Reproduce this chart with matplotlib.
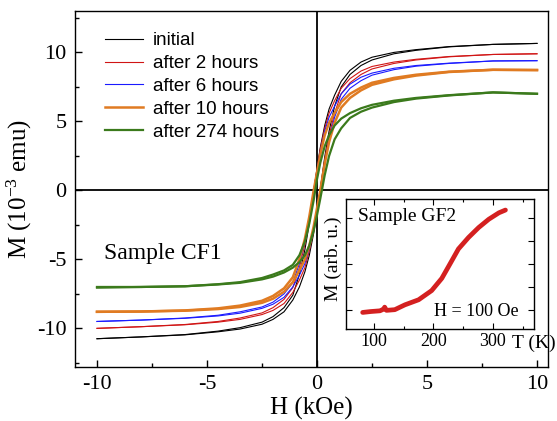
import numpy as np
import matplotlib
matplotlib.use("Agg")
import matplotlib.pyplot as plt
from matplotlib.ticker import MultipleLocator

plt.rcParams["axes.unicode_minus"] = False
plt.rcParams["mathtext.fontset"] = "custom"
plt.rcParams["mathtext.rm"] = "Liberation Serif"
plt.rcParams["mathtext.it"] = "Liberation Serif:italic"

# === Data ===
# field grid (kOe), shared by all branches
H = [-10, -8, -6, -4.5, -3.5, -2.5, -2, -1.5, -1.1, -0.8, -0.55, -0.35, -0.15, 0,
     0.15, 0.35, 0.55, 0.8, 1.1, 1.5, 2, 2.5, 3.5, 4.5, 6, 8, 10]

# upper (descending) and lower (ascending) branches, M in 1e-3 emu
initial_up = [-10.75, -10.62, -10.45, -10.2, -9.95, -9.55, -9.15, -8.5, -7.6, -6.1, -4.3, -2.4, -0.1, 1.6,
              3.1, 4.7, 5.9, 6.9, 7.9, 8.7, 9.3, 9.65, 10.0, 10.2, 10.42, 10.58, 10.65]
initial_lo = [-10.75, -10.62, -10.47, -10.25, -10.05, -9.7, -9.35, -8.8, -7.95, -7.0, -5.9, -4.7, -3.1, -1.6,
              0.1, 2.4, 4.3, 6.1, 7.5, 8.4, 9.05, 9.45, 9.9, 10.15, 10.4, 10.58, 10.65]

h2_up = [-10.0, -9.88, -9.72, -9.5, -9.25, -8.88, -8.5, -7.9, -7.05, -5.6, -3.9, -2.1, 0.0, 1.5,
         3.0, 4.5, 5.6, 6.5, 7.4, 8.1, 8.65, 8.98, 9.3, 9.5, 9.7, 9.85, 9.9]
h2_lo = [-10.0, -9.88, -9.74, -9.55, -9.35, -9.0, -8.7, -8.2, -7.4, -6.5, -5.6, -4.4, -2.9, -1.5,
         0.1, 2.2, 4.0, 5.6, 7.0, 7.8, 8.4, 8.8, 9.2, 9.45, 9.68, 9.85, 9.9]

h6_up = [-9.5, -9.4, -9.25, -9.05, -8.8, -8.45, -8.1, -7.5, -6.7, -5.3, -3.7, -2.0, 0.0, 1.4,
         2.8, 4.3, 5.3, 6.1, 7.0, 7.7, 8.2, 8.5, 8.85, 9.05, 9.22, 9.38, 9.4]
h6_lo = [-9.5, -9.4, -9.27, -9.1, -8.9, -8.55, -8.25, -7.75, -7.0, -6.15, -5.3, -4.2, -2.8, -1.4,
         0.0, 2.0, 3.7, 5.3, 6.6, 7.4, 7.95, 8.35, 8.75, 9.0, 9.2, 9.38, 9.4]

h10_up = [-8.8, -8.78, -8.7, -8.55, -8.35, -8.0, -7.65, -7.1, -6.3, -5.0, -3.5, -1.9, 0.0, 1.3,
          2.6, 4.0, 4.9, 5.6, 6.4, 7.0, 7.45, 7.8, 8.15, 8.38, 8.6, 8.74, 8.72]
h10_lo = [-8.8, -8.78, -8.72, -8.6, -8.45, -8.15, -7.85, -7.35, -6.65, -5.8, -5.0, -4.0, -2.6, -1.3,
          0.0, 1.9, 3.5, 4.9, 6.0, 6.7, 7.25, 7.65, 8.05, 8.32, 8.58, 8.74, 8.72]

h274_up = [-7.0, -7.0, -6.95, -6.8, -6.65, -6.35, -6.1, -5.8, -5.4, -4.7, -3.7, -2.4, -0.7, 0.8,
           2.0, 3.2, 4.0, 4.7, 5.2, 5.6, 5.95, 6.2, 6.5, 6.7, 6.9, 7.1, 7.0]
h274_lo = [-7.05, -7.0, -6.95, -6.82, -6.7, -6.45, -6.25, -5.95, -5.6, -5.2, -4.7, -4.0, -2.9, -1.8,
           -0.6, 1.1, 2.5, 3.7, 4.5, 5.25, 5.7, 6.0, 6.4, 6.65, 6.88, 7.1, 7.0]

labels = ["initial", "after 2 hours", "after 6 hours", "after 10 hours", "after 274 hours"]
colors = ["#000000", "#d01515", "#1a1aff", "#e07b22", "#3b7a1c"]
widths = [0.8, 0.8, 0.8, 1.8, 1.6]
branches = [(initial_up, initial_lo), (h2_up, h2_lo), (h6_up, h6_lo),
            (h10_up, h10_lo), (h274_up, h274_lo)]

# inset: M(T) of sample GF2
T_inset = [81, 95, 110, 116, 118, 121, 135, 152, 175, 197, 214, 225, 242, 259, 276, 293, 310, 321]
M_inset = [-0.09, -0.05, -0.02, 0.05, 0.14, 0.0, 0.03, 0.24, 0.46, 0.86, 1.39, 1.89, 2.67, 3.17,
           3.6, 3.96, 4.24, 4.36]

serif = "Liberation Serif"
sans = "Liberation Sans"

fig = plt.figure(figsize=(5.57, 4.21), dpi=100)
ax = fig.add_axes([75/557, 1 - 367/421, 473/557, 356/421])

for (up, lo), lab, c, lw in zip(branches, labels, colors, widths):
    ax.plot(H, up, color=c, lw=lw, label=lab)
    ax.plot(H, lo, color=c, lw=lw)

ax.axhline(0, color="black", lw=1.3, zorder=0)
ax.axvline(0, color="black", lw=1.3, zorder=0)

ax.set_xlim(-11, 10.5)
ax.set_ylim(-12.8, 13)
ax.xaxis.set_major_locator(MultipleLocator(5))
ax.xaxis.set_minor_locator(MultipleLocator(2.5))
ax.yaxis.set_major_locator(MultipleLocator(5))
ax.yaxis.set_minor_locator(MultipleLocator(2.5))
ax.tick_params(which="both", direction="in", top=False, right=False)
ax.tick_params(which="major", length=5, width=1, labelsize=16, pad=6)
ax.tick_params(which="minor", length=3, width=1)
for lab in ax.get_xticklabels() + ax.get_yticklabels():
    lab.set_fontfamily(serif)
for s in ax.spines.values():
    s.set_linewidth(1)

ax.set_xlabel("H (kOe)", fontsize=18, family=serif, labelpad=2)
ax.set_ylabel(r"M (10$^{-3}$ emu)", fontsize=18, family=serif, labelpad=2)

ax.text(-9.7, -4.6, "Sample CF1", fontsize=17, family=serif, va="center", ha="left")

leg = ax.legend(loc="upper left", bbox_to_anchor=(105/557, 1 - 32/421),
                bbox_transform=fig.transFigure, frameon=False,
                prop={"family": sans, "size": 13.5}, handlelength=2.0,
                handletextpad=0.55, labelspacing=0.31, borderpad=0, borderaxespad=0)

# === inset ===
ax_in = fig.add_axes([346/557, 1 - 329/421, 188/557, 130/421])
ax_in.plot(T_inset, M_inset, color="#d42020", lw=3.4, solid_capstyle="round")
ax_in.set_xlim(53, 369)
ax_in.set_ylim(-0.81, 4.84)
ax_in.xaxis.set_major_locator(MultipleLocator(100))
ax_in.xaxis.set_minor_locator(MultipleLocator(50))
ax_in.yaxis.set_major_locator(MultipleLocator(1))
ax_in.tick_params(which="both", direction="in", top=True, right=True)
ax_in.tick_params(which="major", length=4, width=0.8, labelsize=13, pad=3, labelleft=False)
ax_in.tick_params(which="minor", length=2.5, width=0.8)
for lab in ax_in.get_xticklabels():
    lab.set_fontfamily(serif)
for s in ax_in.spines.values():
    s.set_linewidth(1)

ax_in.text(0.062, 0.864, "Sample GF2", transform=ax_in.transAxes, fontsize=14,
           family=serif, va="center", ha="left")
ax_in.text(0.92, 0.133, "H = 100 Oe", transform=ax_in.transAxes, fontsize=13,
           family=serif, va="center", ha="right")
ax_in.text(0.883, -0.108, "T (K)", transform=ax_in.transAxes, fontsize=14,
           family=serif, va="center", ha="left")
ax_in.text(-0.069, 0.538, "M (arb. u.)", transform=ax_in.transAxes, fontsize=14,
           family=serif, va="center", ha="center", rotation=90)

fig.savefig("out.png", dpi=100)
